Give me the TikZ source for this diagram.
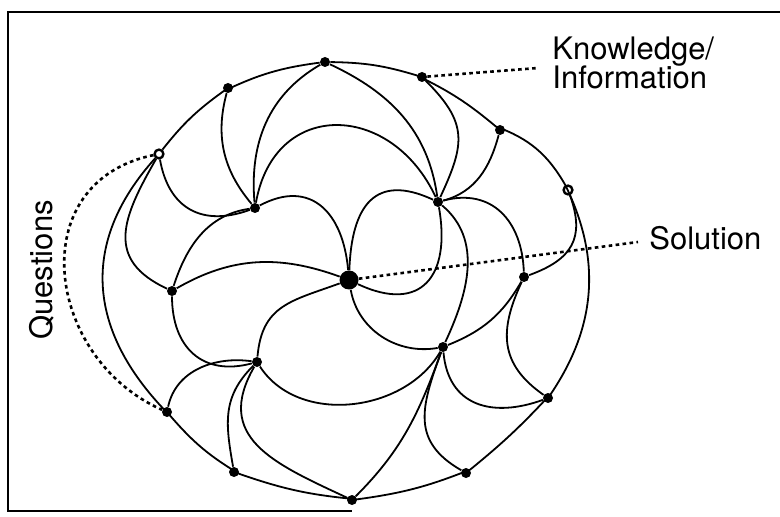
\documentclass[tikz,border=0pt]{standalone}
\usepackage{fontspec}
\setmainfont{TeX Gyre Heros}
\begin{document}
\begin{tikzpicture}[
  x=0.5pt,y=-0.5pt,
  font=\fontsize{15.5}{18}\selectfont,
  link/.style={draw=black,line width=0.9pt},
  lead/.style={draw=black,line width=1.3pt,dash pattern=on 1.8pt off 1.7pt},
  knot/.style={circle,fill=black,inner sep=0pt,minimum size=5pt},
  openknot/.style={knot,draw=black,fill=white,line width=1.2pt,minimum size=4.4pt},
  hub/.style={knot,minimum size=9.5pt},
  tag/.style={inner sep=0pt}
]
\useasboundingbox (0,0) rectangle (780,517);
\draw[line width=1pt] (780,12) -- (8,12) -- (8,511) -- (352,511);
\node[knot] (r1) at (325,62) {};
\node[knot] (r2) at (422,77) {};
\node[knot] (r3) at (500,130) {};
\node[openknot] (r4) at (568,190) {};
\node[knot] (r5) at (548,398) {};
\node[knot] (r6) at (466,473) {};
\node[knot] (r7) at (352,500) {};
\node[knot] (r8) at (234,472) {};
\node[knot] (r9) at (167,412) {};
\node[openknot] (r10) at (159,154) {};
\node[knot] (r11) at (228,88) {};
\node[knot] (i1) at (255,208) {};
\node[knot] (i2) at (438,202) {};
\node[knot] (i3) at (524,277) {};
\node[knot] (i4) at (443,347) {};
\node[knot] (i5) at (257,362) {};
\node[knot] (i6) at (172,291) {};
\node[hub] (sol) at (349,280) {};
\node[tag,anchor=base west] (know) at (552,60) {Knowledge/};
\node[tag,anchor=base west] (info) at (552,89) {Information};
\node[tag,anchor=base west] (soltext) at (649,250) {Solution};
\node[tag,rotate=90,anchor=base] (quest) at (52,270) {Questions};
\coordinate (knowend) at (538,68);
\coordinate (solend) at (638,242);
\draw[link] (r1) to[bend left=8] (r2) to[bend left=7] (r3)
  to[bend left=20] (r4) to[bend left=30] (r5) to[bend left=4] (r6)
  to[bend left=7] (r7) to[bend left=7] (r8) to[bend left=9] (r9)
  to[out=135,in=228,looseness=1.15] (r10) to[bend left=8] (r11)
  to[bend left=9] (r1);
\draw[link] (r11) to[out=255,in=130] (i1);
\draw[link] (r1) to[out=210,in=95] (i1);
\draw[link] (r10) to[out=280,in=200,looseness=1.25] (i1);
\draw[link] (i6) to[out=72,in=188] (i1);
\draw[link] (i1) to[out=80,in=115,looseness=1.5] (i2);
\draw[link] (i1) to[out=28,in=95,looseness=1.35] (sol);
\draw[link] (r1) to[out=-25,in=98] (i2);
\draw[link] (r2) to[out=-45,in=65,looseness=1.3] (i2);
\draw[link] (r3) to[out=255,in=15] (i2);
\draw[link] (i2) to[out=15,in=92,looseness=1.2] (i3);
\draw[link] (sol) to[out=-25,in=-80,looseness=1.6] (i2);
\draw[link] (sol) to[out=88,in=155,looseness=1.5] (i2);
\draw[link] (i2) to[out=-40,in=65] (i4);
\draw[link] (r4) to[out=-70,in=20,looseness=1.3] (i3);
\draw[link] (i3) to[out=240,in=22] (i4);
\draw[link] (i3) to[out=245,in=145,looseness=1.2] (r5);
\draw[link] (sol) to[out=-80,in=190] (i4);
\draw[link] (i5) to[out=-57,in=-120] (i4);
\draw[link] (i4) to[out=250,in=45] (r7);
\draw[link] (i4) to[out=250,in=150,looseness=1.25] (r6);
\draw[link] (i4) to[out=275,in=200,looseness=1.25] (r5);
\draw[link] (i6) to[out=30,in=160] (sol);
\draw[link] (sol) to[out=200,in=85,looseness=1.2] (i5);
\draw[link] (r10) to[out=240,in=155,looseness=1.35] (i6);
\draw[link] (i6) to[out=270,in=195,looseness=1.25] (i5);
\draw[link] (r9) to[out=78,in=172] (i5);
\draw[link] (i5) to[out=225,in=100,looseness=1.1] (r8);
\draw[link] (i5) to[out=240,in=155,looseness=1.3] (r7);
\draw[lead] (r2) -- (knowend);
\draw[lead] (sol) -- (solend);
\draw[lead] (r10) .. controls (22,182) and (45,358) .. (r9);
\end{tikzpicture}
\end{document}
